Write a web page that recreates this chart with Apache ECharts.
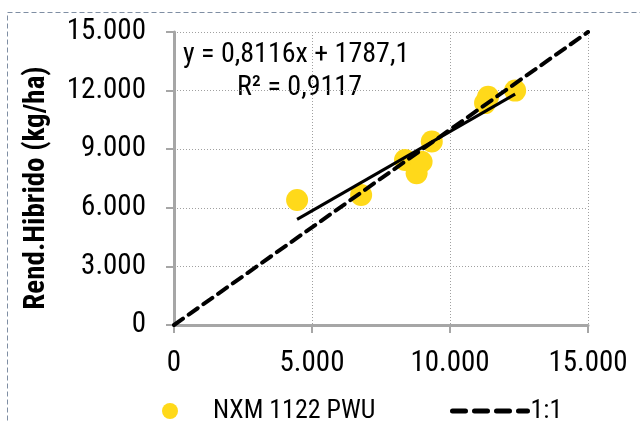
<!DOCTYPE html>
<html>
<head>
<meta charset="utf-8">
<script src="https://cdn.jsdelivr.net/npm/echarts@6/dist/echarts.min.js"></script>
<style>
  html, body { margin: 0; padding: 0; background: #fff; }
  #chart { width: 640px; height: 421px; }
</style>
</head>
<body>
<div id="chart"></div>
<script>
// Yield of the reference (x) vs. hybrid yield (y), kg/ha
const pointsX = [4460, 6780, 8370, 8790, 8970, 9340, 11270, 11380, 12360];
const pointsY = [6400, 6660, 8450, 7770, 8360, 9390, 11360, 11690, 12000];

// Linear fit reported on the chart
const slope = 0.8116;
const intercept = 1787.1;
const rSquared = '0,9117';

// 1:1 reference line
const oneToOneX = [0, 15000];

const axisMin = 0, axisMax = 15000;
const xInterval = 5000, yInterval = 3000;

const FONT = "'Roboto Condensed', 'Liberation Sans Narrow', 'DejaVu Sans Condensed', sans-serif";

function fmt(v) {
  return String(Math.round(v)).replace(/\B(?=(\d{3})+(?!\d))/g, '.');
}

const scatterData = pointsX.map((x, i) => [x, pointsY[i]]);
const xLo = Math.min(...pointsX), xHi = Math.max(...pointsX);
const trendData = [[xLo, slope * xLo + intercept], [xHi, slope * xHi + intercept]];
const diagData = oneToOneX.map(v => [v, v]);

const chart = echarts.init(document.getElementById('chart'), null, { renderer: 'canvas' });

const axisCommon = {
  type: 'value',
  min: axisMin,
  max: axisMax,
  axisLine: { show: true, onZero: false, lineStyle: { color: '#a6a6a6', width: 3 } },
  axisTick: { show: true, length: 8, lineStyle: { color: '#a6a6a6', width: 2 } },
  splitLine: { show: true, lineStyle: { color: '#a0a0a0', type: [1, 2], width: 1 } },
  axisLabel: { color: '#000', fontFamily: FONT, fontSize: 29, formatter: fmt }
};

chart.setOption({
  animation: false,
  grid: { left: 174, right: 52, top: 32, bottom: 96, containLabel: false },
  xAxis: Object.assign({}, axisCommon, { interval: xInterval,
    axisLabel: Object.assign({}, axisCommon.axisLabel, { margin: 24 }) }),
  yAxis: Object.assign({}, axisCommon, { interval: yInterval,
    axisLabel: Object.assign({}, axisCommon.axisLabel, { margin: 28 }) }),
  legend: [
    {
      data: [{ name: 'NXM 1122 PWU', icon: 'circle' }],
      left: 157, top: 393, itemWidth: 16, itemHeight: 16,
      textStyle: { fontFamily: FONT, fontSize: 26, color: '#000', padding: [0, 0, 0, 30] }
    },
    {
      data: ['1:1'],
      left: 445, top: 393, itemWidth: 75, itemHeight: 18, itemGap: 0,
      itemStyle: { color: 'rgba(0,0,0,0)', borderWidth: 0, opacity: 0 },
      lineStyle: { color: '#000', width: 5, type: [13, 9], cap: 'round' },
      textStyle: { fontFamily: FONT, fontSize: 26, color: '#000', padding: [0, 0, 0, -2] }
    }
  ],
  series: [
    {
      name: 'NXM 1122 PWU',
      type: 'scatter',
      data: scatterData,
      symbol: 'circle',
      symbolSize: 22,
      itemStyle: { color: '#ffd91a', opacity: 1 },
      z: 2
    },
    {
      name: 'Tendência',
      type: 'line',
      data: trendData,
      symbol: 'none',
      lineStyle: { color: '#000', width: 3 },
      z: 3
    },
    {
      name: '1:1',
      type: 'line',
      data: diagData,
      symbol: 'none',
      lineStyle: { color: '#000', width: 4, type: [11, 7], cap: 'round' },
      itemStyle: { color: '#000' },
      z: 4
    }
  ],
  graphic: [
    {
      type: 'rect', left: 5, top: 10, silent: true, z: -1,
      shape: { width: 660, height: 440 },
      style: { fill: 'none', stroke: '#7f8ea3', lineWidth: 1, lineDash: [5, 3] }
    },
    {
      type: 'text', x: 37, y: 188, rotation: Math.PI / 2,
      style: { text: 'Rend.Hibrido (kg/ha)', fontFamily: FONT, fontSize: 29, fontWeight: 'bold',
               fill: '#000', align: 'center', verticalAlign: 'middle' }
    },
    {
      type: 'text', left: 183, top: 41,
      style: { text: 'y = 0,8116x + 1787,1', fontFamily: FONT, fontSize: 28, fill: '#000' }
    },
    {
      type: 'text', left: 237, top: 74,
      style: { text: 'R² = ' + rSquared, fontFamily: FONT, fontSize: 28, fill: '#000' }
    }
  ]
});
</script>
</body>
</html>
